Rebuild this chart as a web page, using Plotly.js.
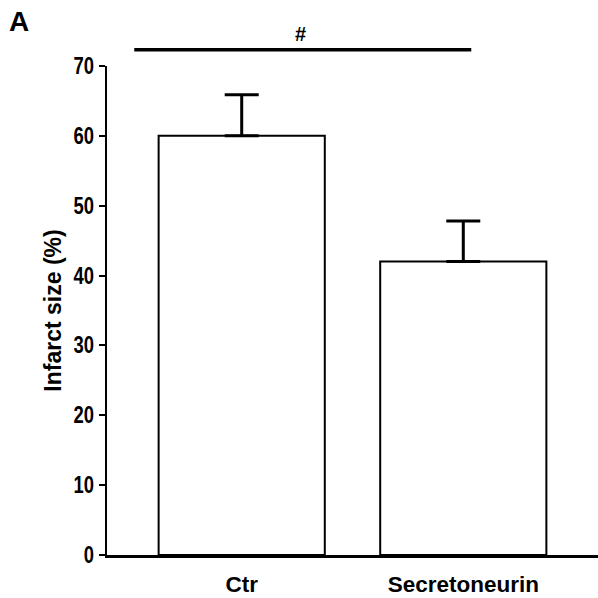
<!DOCTYPE html>
<html>
<head>
<meta charset="utf-8">
<script src="https://cdn.plot.ly/plotly-3.0.1.min.js"></script>
<style>html,body{margin:0;padding:0;background:#fff;}#chart{width:598px;height:598px;}</style>
</head>
<body>
<div id="chart"></div>
<script>
const categories = ["Ctr", "Secretoneurin"];
const infarctSize = [60.0, 42.0];
const errorPlus = [5.9, 5.8];
const yTickValues = [0, 10, 20, 30, 40, 50, 60, 70];
const panelLabel = "A";
const significanceMark = "#";

const sans = "Liberation Sans, Arial, Helvetica, sans-serif";

const trace = {
  type: "bar",
  x: categories,
  y: infarctSize,
  width: 0.75,
  marker: {color: "#ffffff", line: {color: "#000000", width: 2}},
  error_y: {
    type: "data", symmetric: false,
    array: errorPlus, arrayminus: [0, 0],
    color: "#000000", thickness: 3, width: 17
  },
  hoverinfo: "none"
};

const layout = {
  width: 598, height: 598,
  margin: {l: 107, r: 0, t: 66, b: 43, pad: 0},
  paper_bgcolor: "#ffffff", plot_bgcolor: "#ffffff",
  showlegend: false,
  xaxis: {
    type: "category",
    range: [-0.608, 1.608],
    showline: true, linecolor: "#000000", linewidth: 2.5,
    ticks: "outside", ticklen: 7, tickcolor: "rgba(0,0,0,0)",
    showgrid: false, zeroline: false,
    tickfont: {family: sans, size: 22.5, color: "#000000", weight: "bold"}
  },
  yaxis: {
    range: [0, 70],
    tickvals: yTickValues,
    ticktext: yTickValues.map(String),
    showline: true, linecolor: "#000000", linewidth: 2.5,
    ticks: "outside", ticklen: 6, tickwidth: 2, tickcolor: "#000000",
    showgrid: false, zeroline: false,
    tickfont: {family: sans, size: 23, color: "#000000", weight: "bold"},
    title: {text: "Infarct size (%)", standoff: 1,
            font: {family: sans, size: 23, color: "#000000", weight: "bold"}}
  },
  shapes: [{
    type: "line", xref: "x", yref: "paper",
    x0: -0.485, x1: 1.036, y0: 1.0333, y1: 1.0333,
    line: {color: "#000000", width: 3.5}
  }],
  annotations: [
    {text: significanceMark, xref: "paper", yref: "paper", x: (300-107)/491, y: (555-33.5)/489,
     xanchor: "center", yanchor: "middle", showarrow: false,
     font: {family: sans, size: 20, color: "#000000", weight: "bold"}},
    {text: panelLabel, xref: "paper", yref: "paper", x: (18.5-107)/491, y: (555-22)/489,
     xanchor: "center", yanchor: "middle", showarrow: false,
     font: {family: sans, size: 28, color: "#000000", weight: "bold"}}
  ]
};

Plotly.newPlot("chart", [trace], layout, {staticPlot: true, displayModeBar: false}).then(function () {
  // condense the y tick labels (narrow bold face in the original)
  document.querySelectorAll("#chart .ytick text").forEach(function (t) {
    const w = t.getComputedTextLength();
    t.setAttribute("textLength", (w * 0.8).toFixed(1));
    t.setAttribute("lengthAdjust", "spacingAndGlyphs");
  });
});
</script>
</body>
</html>
